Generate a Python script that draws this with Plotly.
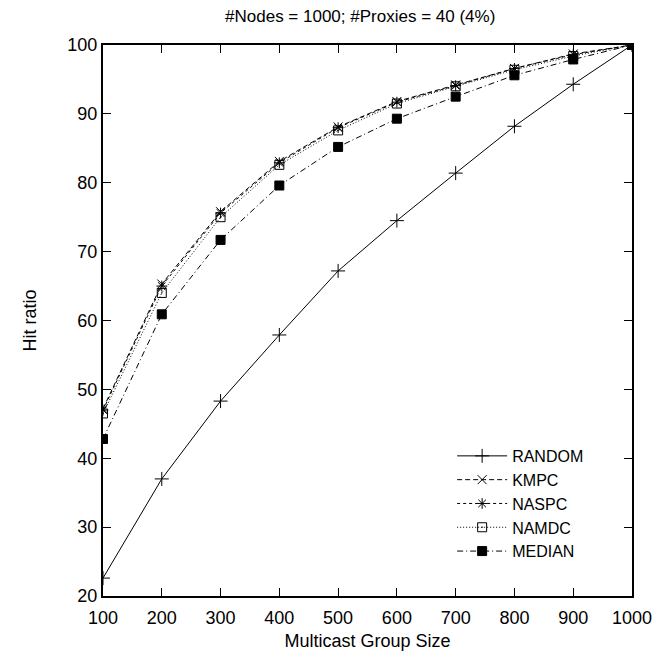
import plotly.graph_objects as go

group_size = [100, 200, 300, 400, 500, 600, 700, 800, 900, 1000]
random_vals = [22.6, 37.0, 48.3, 57.9, 67.2, 74.5, 81.4, 88.2, 94.3, 100.0]
kmpc_vals = [47.2, 65.3, 75.8, 83.1, 88.1, 91.8, 94.2, 96.6, 98.7, 100.0]
naspc_vals = [47.0, 65.0, 75.6, 82.9, 88.0, 91.7, 94.1, 96.6, 98.6, 100.0]
namdc_vals = [46.5, 64.0, 75.0, 82.6, 87.6, 91.5, 94.0, 96.4, 98.4, 100.0]
median_vals = [42.8, 60.9, 71.7, 79.6, 85.2, 89.3, 92.5, 95.6, 97.9, 100.0]
x_ticks = [100, 200, 300, 400, 500, 600, 700, 800, 900, 1000]
y_ticks = [20, 30, 40, 50, 60, 70, 80, 90, 100]

series = [
    ("RANDOM", random_vals, "solid", "cross-thin", 10),
    ("KMPC", kmpc_vals, "5px,3px", "x-thin", 9),
    ("NASPC", naspc_vals, "3px,3px", "asterisk", 9),
    ("NAMDC", namdc_vals, "1px,2px", "square-open-dot", 9),
    ("MEDIAN", median_vals, "6px,3px,1px,3px", "square", 9),
]

fig = go.Figure()
for name, vals, dash, sym, size in series:
    fig.add_trace(go.Scatter(
        x=group_size, y=vals, name=name, mode="lines+markers",
        line=dict(color="black", width=1, dash=dash),
        marker=dict(symbol=sym, size=size, color="black",
                    line=dict(color="black", width=1)),
    ))

font = "Liberation Sans, Arial, sans-serif"
fig.update_layout(
    width=667, height=656,
    paper_bgcolor="white", plot_bgcolor="white",
    margin=dict(l=95, r=43, t=37, b=68, autoexpand=False),
    font=dict(family=font, size=18, color="black"),
    title=dict(text="#Nodes = 1000; #Proxies = 40 (4%)", xref="container", x=0.528,
               xanchor="center", yref="container", y=0.987, yanchor="middle",
               font=dict(size=17)),
    showlegend=True,
    legend=dict(x=0.66, xanchor="left", y=0.285, yanchor="top",
                bgcolor="rgba(0,0,0,0)", font=dict(size=16),
                tracegroupgap=0, itemwidth=50),
)
fig.update_xaxes(
    range=[100, 1000], tickvals=x_ticks, ticks="inside", ticklen=8,
    tickcolor="black", showline=True, linecolor="black", linewidth=2,
    mirror="ticks", showgrid=False, zeroline=False, automargin=False,
    ticklabelstandoff=4,
    title=dict(text="Multicast Group Size", font=dict(size=18), standoff=8),
    tickfont=dict(size=18),
)
fig.update_yaxes(
    range=[20, 100], tickvals=y_ticks, ticks="inside", ticklen=8,
    tickcolor="black", showline=True, linecolor="black", linewidth=2,
    mirror="ticks", showgrid=False, zeroline=False, automargin=False,
    title=dict(text="Hit ratio", font=dict(size=18), standoff=26),
    tickfont=dict(size=18),
)
fig.write_html("out.html")
